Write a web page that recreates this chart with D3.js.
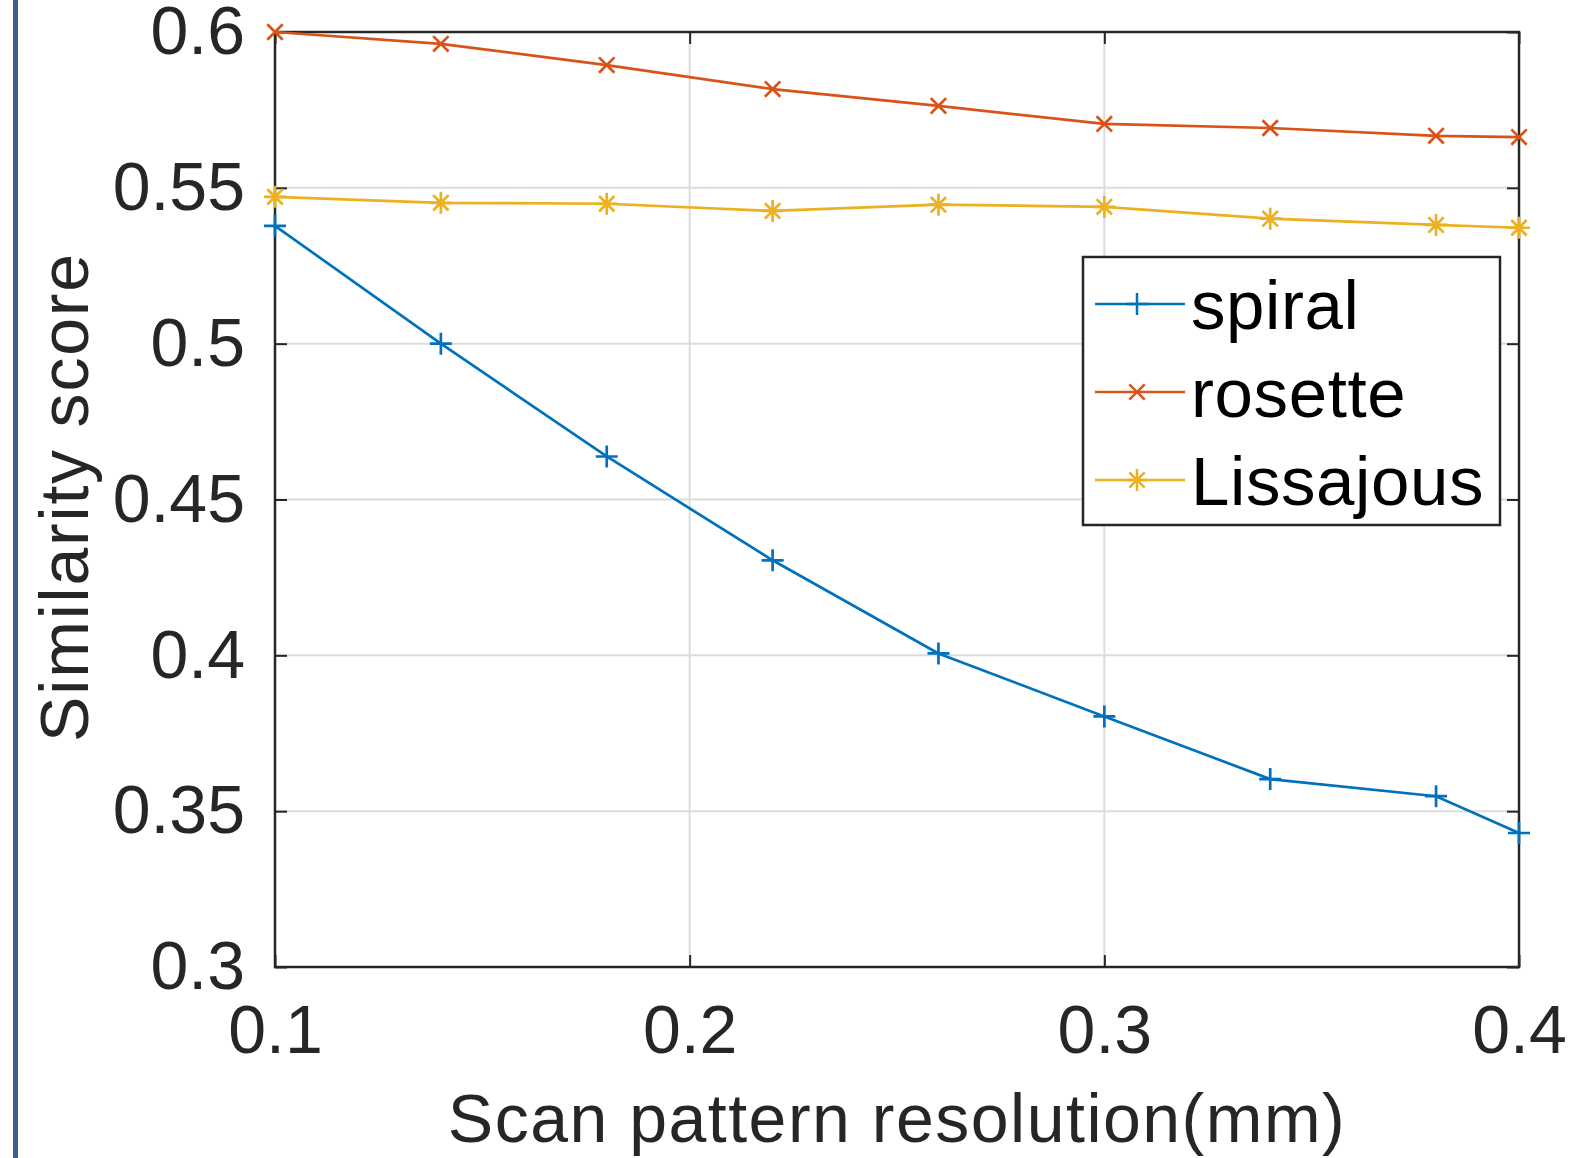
<!DOCTYPE html>
<html>
<head>
<meta charset="utf-8">
<script src="https://cdn.jsdelivr.net/npm/d3@7"></script>
<style>
  body { margin: 0; background: #fff; }
  text { font-family: "Liberation Sans", Arial, Helvetica, sans-serif; fill: #262626; }
</style>
</head>
<body>
<div id="chart"></div>
<script>
// data
const resolution = [0.10, 0.14, 0.18, 0.22, 0.26, 0.30, 0.34, 0.38, 0.40];
const spiral     = [0.5378, 0.5000, 0.4638, 0.4305, 0.4006, 0.3804, 0.3603, 0.3548, 0.3430];
const rosette    = [0.6000, 0.5962, 0.5894, 0.5817, 0.5763, 0.5705, 0.5692, 0.5667, 0.5663];
const lissajous  = [0.5471, 0.5452, 0.5449, 0.5426, 0.5446, 0.5439, 0.5401, 0.5381, 0.5372];
const seriesNames = ["spiral", "rosette", "Lissajous"];
const xTicks = [0.1, 0.2, 0.3, 0.4];
const yTicks = [0.3, 0.35, 0.4, 0.45, 0.5, 0.55, 0.6];

const W = 1569, H = 1158;
const margin = {top: 32, right: 50, bottom: 191, left: 275};
const width = W - margin.left - margin.right,
      height = H - margin.top - margin.bottom;

const colors = ["#0072BD", "#D95319", "#EDB120"];
const markers = ["plus", "cross", "star"];

const svg = d3.select("#chart")
  .append("svg")
    .attr("width", W)
    .attr("height", H);

// slide border on the left
svg.append("rect")
  .attr("x", 13).attr("y", 0)
  .attr("width", 5).attr("height", H)
  .attr("fill", "#3c5f91");

const g = svg.append("g")
  .attr("transform", "translate(" + margin.left + "," + margin.top + ")");

const x = d3.scaleLinear().domain([0.1, 0.4]).range([0, width]);
const y = d3.scaleLinear().domain([0.3, 0.6]).range([height, 0]);

// grid
g.append("g")
  .selectAll("line.vg")
  .data(xTicks)
  .enter().append("line")
    .attr("x1", d => x(d)).attr("x2", d => x(d))
    .attr("y1", 0).attr("y2", height)
    .attr("stroke", "#dcdcdc").attr("stroke-width", 2);
g.append("g")
  .selectAll("line.hg")
  .data(yTicks)
  .enter().append("line")
    .attr("x1", 0).attr("x2", width)
    .attr("y1", d => y(d)).attr("y2", d => y(d))
    .attr("stroke", "#dcdcdc").attr("stroke-width", 2);

// axes (ticks pointing in, MATLAB style)
const fmt = d => String(+d.toFixed(2));
const tickStyle = sel => {
  sel.select(".domain").remove();
  sel.selectAll(".tick line").attr("stroke", "#262626").attr("stroke-width", 2);
  sel.selectAll(".tick text").style("font-size", "68px").attr("fill", "#262626");
};

g.append("g")
  .attr("transform", "translate(0," + height + ")")
  .call(d3.axisBottom(x).tickValues(xTicks).tickFormat(fmt).tickSize(-12).tickPadding(38))
  .call(tickStyle);
g.append("g")
  .call(d3.axisTop(x).tickValues(xTicks).tickSize(-12).tickFormat(""))
  .call(tickStyle);
g.append("g")
  .call(d3.axisLeft(y).tickValues(yTicks).tickFormat(fmt).tickSize(-12).tickPadding(30))
  .call(tickStyle);
g.append("g")
  .attr("transform", "translate(" + width + ",0)")
  .call(d3.axisRight(y).tickValues(yTicks).tickSize(-12).tickFormat(""))
  .call(tickStyle);

// box
g.append("rect")
  .attr("x", 0).attr("y", 0)
  .attr("width", width).attr("height", height)
  .attr("fill", "none")
  .attr("stroke", "#262626")
  .attr("stroke-width", 2.5);

// marker paths
function markerPath(type, s) {
  if (type === "plus") return `M${-s},0H${s}M0,${-s}V${s}`;
  if (type === "cross") return `M${-s*0.7},${-s*0.7}L${s*0.7},${s*0.7}M${-s*0.7},${s*0.7}L${s*0.7},${-s*0.7}`;
  return `M${-s},0H${s}M0,${-s}V${s}M${-s*0.7},${-s*0.7}L${s*0.7},${s*0.7}M${-s*0.7},${s*0.7}L${s*0.7},${-s*0.7}`;
}

const allSeries = [spiral, rosette, lissajous];
const line = d3.line()
  .x((d, i) => x(resolution[i]))
  .y(d => y(d));

allSeries.forEach((vals, k) => {
  g.append("path")
    .datum(vals)
    .attr("d", line)
    .attr("fill", "none")
    .attr("stroke", colors[k])
    .attr("stroke-width", 2.7);
  g.selectAll(".m" + k)
    .data(vals)
    .enter().append("path")
      .attr("transform", (d, i) => "translate(" + x(resolution[i]) + "," + y(d) + ")")
      .attr("d", markerPath(markers[k], 11))
      .attr("fill", "none")
      .attr("stroke", colors[k])
      .attr("stroke-width", 2.7);
});

// legend
const legend = svg.append("g").attr("transform", "translate(1083,257)");
legend.append("rect")
  .attr("width", 417).attr("height", 268)
  .attr("fill", "#fff")
  .attr("stroke", "#262626")
  .attr("stroke-width", 2.5);
seriesNames.forEach((name, k) => {
  const ly = 47 + k * 88;
  legend.append("line")
    .attr("x1", 12).attr("x2", 102)
    .attr("y1", ly).attr("y2", ly)
    .attr("stroke", colors[k]).attr("stroke-width", 2.5);
  legend.append("path")
    .attr("transform", "translate(54," + ly + ")")
    .attr("d", markerPath(markers[k], 11))
    .attr("fill", "none")
    .attr("stroke", colors[k]).attr("stroke-width", 2.5);
  legend.append("text")
    .attr("x", 108).attr("y", ly)
    .attr("dy", "0.36em")
    .style("font-size", "69px")
    .style("letter-spacing", "0.6px")
    .style("fill", "#000")
    .text(name);
});

// axis labels
svg.append("text")
  .attr("x", margin.left + width / 2)
  .attr("y", 1142)
  .attr("text-anchor", "middle")
  .style("font-size", "68px")
  .style("letter-spacing", "1.5px")
  .text("Scan pattern resolution(mm)");

svg.append("text")
  .attr("transform", "translate(88," + 497 + ") rotate(-90)")
  .attr("text-anchor", "middle")
  .style("font-size", "68px")
  .style("letter-spacing", "1.8px")
  .text("Similarity score");
</script>
</body>
</html>
